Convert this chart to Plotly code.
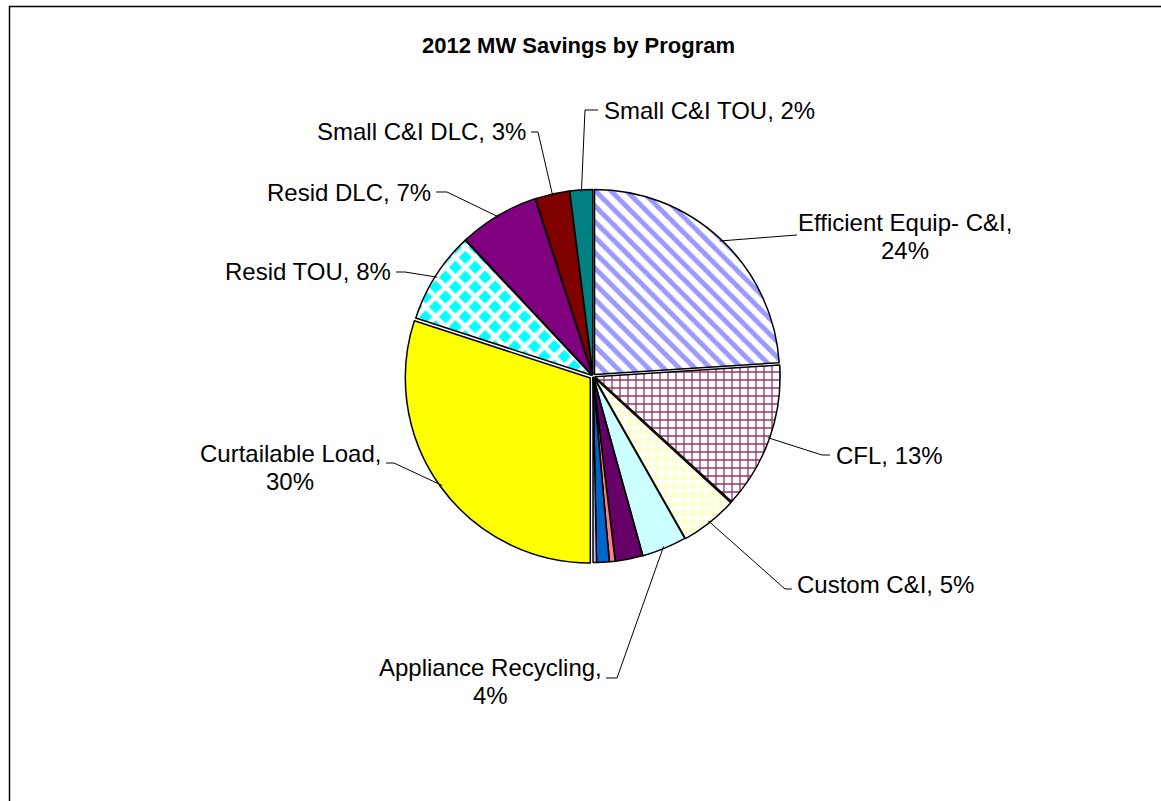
import math
import plotly.graph_objects as go

W, H = 1161, 801

# Program names and MW savings shares (clockwise from 12 o'clock)
programs = [
    "Efficient Equip- C&I", "CFL", "Custom C&I", "Appliance Recycling",
    "Other program 1", "Other program 2", "Other program 3", "Other program 4",
    "Curtailable Load", "Resid TOU", "Resid DLC", "Small C&I DLC", "Small C&I TOU",
]
savings = [24.0, 12.8, 5.0, 3.9, 2.4, 0.5, 1.1, 0.3, 30.0, 8.0, 7.0, 3.0, 2.0]

# Slice fills
fill_colors = ["#FFFFFF", "#FFFFFF", "#FFFFCC", "#CCFFFF", "#660066", "#FF8080",
               "#0066CC", "#CCCCFF", "#FFFF00", "#00FFFF", "#800080", "#800000", "#008080"]
pat_shapes = ["\\", "+", "+", "", "", "", "", "", "", "x", "", "", ""]
pat_fg = ["#9999FF", "#993366", "#FFFFFF", "#CCFFFF", "#660066", "#FF8080",
          "#0066CC", "#CCCCFF", "#FFFF00", "#FFFFFF", "#800080", "#800000", "#008080"]
pat_size = [11, 8, 9, 8, 8, 8, 8, 8, 8, 14, 8, 8, 8]
pat_solid = [0.45, 0.3, 0.45, 0.3, 0.3, 0.3, 0.3, 0.3, 0.3, 0.55, 0.3, 0.3, 0.3]
pulls = [0.012, 0.012, 0.012, 0.008, 0.008, 0.008, 0.008, 0.008, 0.018, 0.008, 0.008, 0.008, 0.008]

# Pie geometry (pixels)
CX, CY, R = 593, 376, 185
max_pull = max(pulls)
half = R * (1 + max_pull)

FONT = "Liberation Sans, Arial, sans-serif"
LABEL_SIZE = 24
LINE_GAP = 28


def px(x):
    return x / W


def py(y):
    return 1 - y / H


# Label placement: text anchor (first line), alignment, elbow point, line end
label_layout = {
    "Efficient Equip- C&I": dict(t=(905, 222), xa="center", two=True, elbow=None, end=(797, 235)),
    "CFL": dict(t=(834, 455), xa="left", two=False, elbow=(822, 455), end=(830, 455)),
    "Custom C&I": dict(t=(795, 584), xa="left", two=False, elbow=(785, 589), end=(792, 589)),
    "Appliance Recycling": dict(t=(490, 667), xa="center", two=True, elbow=(617, 678), end=(606, 678)),
    "Curtailable Load": dict(t=(290, 453), xa="center", two=True, elbow=(394, 463), end=(386, 463)),
    "Resid TOU": dict(t=(393, 272), xa="right", two=False, elbow=(405, 272), end=(396, 272)),
    "Resid DLC": dict(t=(433, 192), xa="right", two=False, elbow=(447, 192), end=(436, 192)),
    "Small C&I DLC": dict(t=(528, 132), xa="right", two=False, elbow=(538, 132), end=(531, 132)),
    "Small C&I TOU": dict(t=(602, 110), xa="left", two=False, elbow=(585, 110), end=(598, 110)),
}

fig = go.Figure(go.Pie(
    labels=programs,
    values=savings,
    sort=False,
    direction="clockwise",
    rotation=0,
    pull=pulls,
    textinfo="none",
    hoverinfo="label+percent",
    showlegend=False,
    domain=dict(x=[px(CX - half), px(CX + half)], y=[py(CY + half), py(CY - half)]),
    marker=dict(
        colors=fill_colors,
        line=dict(color="#000000", width=1.5),
        pattern=dict(shape=pat_shapes, fgcolor=pat_fg, bgcolor=fill_colors,
                     size=pat_size, solidity=pat_solid, fillmode="replace"),
    ),
))

total = sum(savings)
shapes = []
annotations = []


def add_text(x, y, text, xanchor):
    annotations.append(dict(x=px(x), y=py(y), xref="paper", yref="paper",
                            text=text, showarrow=False, xanchor=xanchor, yanchor="middle",
                            font=dict(family=FONT, size=LABEL_SIZE, color="#000000")))


cum = 0.0
for name, val, pull in zip(programs, savings, pulls):
    mid = (cum + val / 2) / total * 2 * math.pi
    cum += val
    if name not in label_layout:
        continue
    cfg = label_layout[name]
    rr = R * (1 + pull) - 2
    ex, ey = CX + rr * math.sin(mid), CY - rr * math.cos(mid)
    pts = [(ex, ey)]
    if cfg["elbow"]:
        pts.append(cfg["elbow"])
    pts.append(cfg["end"])
    path = "M " + " L ".join(f"{px(a):.5f},{py(b):.5f}" for a, b in pts)
    shapes.append(dict(type="path", xref="paper", yref="paper", path=path,
                       line=dict(color="#000000", width=1)))
    pct = f"{round(100 * val / total)}%"
    tx, ty = cfg["t"]
    if cfg["two"]:
        add_text(tx, ty, f"{name},", cfg["xa"])
        add_text(tx, ty + LINE_GAP, pct, cfg["xa"])
    else:
        add_text(tx, ty, f"{name}, {pct}", cfg["xa"])

# Title
annotations.append(dict(x=px(578), y=py(45), xref="paper", yref="paper",
                        text="<b>2012 MW Savings by Program</b>", showarrow=False,
                        xanchor="center", yanchor="middle",
                        font=dict(family=FONT, size=22, color="#000000")))

# Chart-area frame
shapes.append(dict(type="rect", xref="paper", yref="paper",
                   x0=px(9.5), x1=px(W + 20), y0=py(H + 20), y1=py(6.5),
                   line=dict(color="#000000", width=1.5), fillcolor="rgba(0,0,0,0)"))

fig.update_layout(
    width=W, height=H,
    margin=dict(l=0, r=0, t=0, b=0),
    paper_bgcolor="#FFFFFF",
    plot_bgcolor="#FFFFFF",
    shapes=shapes,
    annotations=annotations,
)

fig.write_html("out.html")
